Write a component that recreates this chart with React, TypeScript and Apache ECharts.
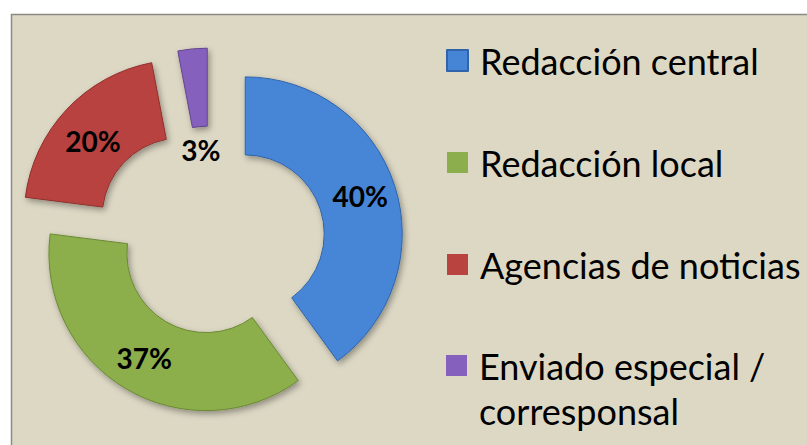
import React, { useEffect, useRef } from 'react';
import * as echarts from 'echarts';

const categories = ['Redacción central', 'Redacción local', 'Agencias de noticias', 'Enviado especial / corresponsal'];
const values = [40, 37, 20, 3];
const colors = ['#4685D6', '#8CAE4C', '#B8433F', '#8660BD'];
const borderColors = ['#2F64AA', '#6A8A32', '#8E2E2B', '#62448F'];
const offsets = [36, 10, 41, 40];
// vertical spacer (px) and horizontal nudge for each slice label
const labelSpacer = [0, 0, 14, 131];
const labelNudge = [0, 0, 0, 10];

const CENTER = [211, 245];
const RADIUS = [79, 157];
const FONT = 'Lato, "Open Sans", sans-serif';

export default function App() {
  const ref = useRef<HTMLDivElement>(null);
  useEffect(() => {
    if (!ref.current) return;
    const chart = echarts.init(ref.current, undefined, { renderer: 'svg' });
    const series = categories.map((_, i) => ({
      type: 'pie',
      center: CENTER,
      radius: RADIUS,
      startAngle: 90,
      clockwise: true,
      selectedMode: 'multiple',
      selectedOffset: offsets[i],
      avoidLabelOverlap: false,
      z: 2 + i,
      emphasis: { disabled: true },
      labelLine: { show: false },
      label: {
        show: false,
        position: 'inside',
        rotate: 0,
        color: '#000',
        fontFamily: FONT,
        fontWeight: 'bold',
        fontSize: 28,
      },
      data: categories.map((name, j) => ({
        name,
        value: values[j],
        selected: j === i,
        itemStyle: j === i
          ? {
              color: colors[j],
              borderColor: borderColors[j],
              borderWidth: 1,
              shadowBlur: 6,
              shadowColor: 'rgba(0,0,0,0.35)',
              shadowOffsetX: 2,
              shadowOffsetY: 3,
            }
          : { color: 'transparent', borderWidth: 0 },
        label: j === i
          ? {
              show: true,
              formatter: labelSpacer[j] > 0 ? '{s| }\n{v|{d}%}' : '{v|{d}%}',
              rich: {
                s: { height: labelSpacer[j], fontSize: 1, lineHeight: labelSpacer[j] },
                v: {
                  padding: [0, 0, 0, labelNudge[j]],
                  color: '#000',
                  fontFamily: FONT,
                  fontWeight: 'bold',
                  fontSize: 28,
                },
              },
            }
          : { show: false },
      })),
    }));

    const legendBase = {
      orient: 'vertical',
      left: 446,
      padding: 0,
      icon: 'rect',
      itemWidth: 21,
      itemHeight: 21,
      selectedMode: false,
      textStyle: {
        fontFamily: FONT,
        fontSize: 36,
        color: '#000',
        lineHeight: 45,
        padding: [0, 0, 0, 7],
      },
    };

    chart.setOption({
      animation: false,
      backgroundColor: '#ffffff',
      graphic: [
        {
          type: 'rect',
          z: -10,
          shape: { x: 11.5, y: 14.5, width: 810, height: 450 },
          style: { fill: '#DDD8C4', stroke: '#8C8A84', lineWidth: 1.5 },
        },
      ],
      legend: [
        {
          ...legendBase,
          top: 38,
          itemGap: 57,
          data: categories.slice(0, 3).map((name, j) => ({ name, itemStyle: { color: colors[j] } })),
        },
        {
          ...legendBase,
          top: 298,
          formatter: (n: string) => '\n' + n.replace(' / ', ' /\n'),
          data: [{ name: categories[3], itemStyle: { color: colors[3] } }],
        },
      ],
      series,
    });
    return () => chart.dispose();
  }, []);
  return <div ref={ref} style={{ position: 'absolute', left: 0, top: 0, width: 807, height: 445 }} />;
}
